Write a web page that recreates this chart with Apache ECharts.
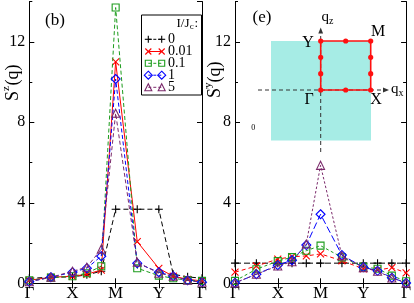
<!DOCTYPE html>
<html><head><meta charset="utf-8">
<script src="https://cdn.jsdelivr.net/npm/echarts@6/dist/echarts.min.js"></script>
<style>html,body{margin:0;padding:0;background:#fff}#c{width:414px;height:303px}</style>
</head><body><div id="c"></div>
<script>
// ---- data ----
const xPath = [0, 0.5, 1, 1.333, 1.667, 2, 2.5, 3, 3.333, 3.667, 4];
const tickLabels = ['Γ', 'X', 'M', 'Y', 'Γ'];
const seriesNames = ['0', '0.01', '0.1', '1', '5'];
const yTicks = [0, 4, 8, 12];

const sz_0    = [0.25, 0.30, 0.32, 0.42, 0.60, 3.68, 3.68, 3.68, 0.45, 0.32, 0.25];
const sz_001  = [0.15, 0.30, 0.35, 0.45, 0.66, 11.0, 2.07, 0.74, 0.35, 0.20, 0.12];
const sz_01   = [0.15, 0.28, 0.35, 0.50, 0.85, 13.7, 0.75, 0.38, 0.25, 0.15, 0.12];
const sz_1    = [0.08, 0.30, 0.55, 0.75, 1.35, 10.15, 1.00, 0.55, 0.35, 0.15, 0.05];
const sz_5    = [0.08, 0.30, 0.60, 0.80, 1.70, 8.45, 1.05, 0.50, 0.35, 0.15, 0.05];

const sy_0    = [1.0, 1.0, 1.0, 1.0, 1.0, 1.0, 1.0, 1.0, 1.0, 1.0, 1.0];
const sy_001  = [0.55, 0.86, 1.20, 1.32, 1.36, 1.46, 1.12, 0.72, 0.65, 0.78, 0.52];
const sy_01   = [0.12, 0.70, 1.10, 1.30, 1.62, 1.87, 1.29, 0.82, 0.72, 0.38, 0.10];
const sy_1    = [0.02, 0.45, 0.90, 1.15, 1.90, 3.43, 1.40, 0.80, 0.62, 0.28, 0.02];
const sy_5    = [0.02, 0.45, 0.86, 1.07, 1.95, 5.86, 1.36, 0.78, 0.60, 0.26, 0.02];

const leftData = [sz_0, sz_001, sz_01, sz_1, sz_5];
const rightData = [sy_0, sy_001, sy_01, sy_1, sy_5];

// ---- styles ----
const SERIF = 'Liberation Serif';
const plusPath = 'path://M0,5L10,5M5,0L5,10';
const crossPath = 'path://M0,0L10,10M0,10L10,0';
const sty = [
  {color: '#000000', symbol: plusPath, size: 8, kind: 'plus'},
  {color: '#ff0000', symbol: crossPath, size: 7, kind: 'cross'},
  {color: '#1c9c1c', symbol: 'rect', size: 7, kind: 'rect'},
  {color: '#0000ff', symbol: 'diamond', size: 9, kind: 'diamond'},
  {color: '#7b2a6b', symbol: 'triangle', size: 8, kind: 'tri'}
];
const leftDash = [[5, 3], 'solid', [4, 2.5], [4, 2.5], [4, 2.5]];
const rightDash = [[6, 3], [4, 3], [3, 2.5], [7, 3], [2.5, 2]];

const G = [
  {left: 29.3, top: 1.5, width: 172.7, height: 281.8},
  {left: 235, top: 1.5, width: 172, height: 281.8}
];

const xAxes = [], yAxes = [];
G.forEach((g, gi) => {
  ['bottom', 'top'].forEach(pos => {
    xAxes.push({
      type: 'value', gridIndex: gi, position: pos, min: 0, max: 4, interval: 1,
      axisLine: {show: true, lineStyle: {color: '#000', width: 1}},
      axisTick: {show: true, inside: true, length: 5, lineStyle: {color: '#000'}},
      axisLabel: {show: pos === 'bottom', margin: 2, fontFamily: SERIF, fontSize: 17, color: '#000',
        formatter: v => tickLabels[Math.round(v)]},
      splitLine: {show: false}
    });
  });
  ['left', 'right'].forEach(pos => {
    yAxes.push({
      type: 'value', gridIndex: gi, position: pos, min: 0, max: 14, interval: 4,
      axisLine: {show: true, lineStyle: {color: '#000', width: 1}},
      axisTick: {show: true, inside: true, length: 5, lineStyle: {color: '#000'}},
      axisLabel: {show: pos === 'left', margin: 4, fontFamily: SERIF, fontSize: 16, color: '#000',
        showMaxLabel: false, formatter: v => (yTicks.indexOf(v) >= 0 ? String(v) : '')},
      splitLine: {show: false}
    });
    yAxes.push({
      type: 'value', gridIndex: gi, position: pos, min: 0, max: 14, interval: 2,
      axisLine: {show: false},
      axisTick: {show: true, inside: true, length: 3, lineStyle: {color: '#000'}},
      axisLabel: {show: false},
      splitLine: {show: false}
    });
  });
});

function mkSeries(arrs, dashes, xi, yi) {
  return arrs.map((arr, i) => ({
    name: seriesNames[i],
    type: 'line',
    xAxisIndex: xi, yAxisIndex: yi,
    data: xPath.map((x, k) => [x, arr[k]]),
    symbol: sty[i].symbol,
    symbolSize: sty[i].size,
    showAllSymbol: true,
    animation: false,
    z: 2 + i,
    lineStyle: {color: sty[i].color, width: 1, type: dashes[i]},
    itemStyle: {color: 'rgba(0,0,0,0)', borderColor: sty[i].color, borderWidth: 1.1}
  }));
}

const series = [].concat(mkSeries(leftData, leftDash, 0, 0), mkSeries(rightData, rightDash, 2, 4));

// ---- decorations (legend, labels, inset) ----
function markerGfx(kind, cx, cy, s, color) {
  const st = {stroke: color, lineWidth: 1.1, fill: 'none'};
  switch (kind) {
    case 'plus': return [
      {type: 'line', shape: {x1: cx - s / 2, y1: cy, x2: cx + s / 2, y2: cy}, style: st},
      {type: 'line', shape: {x1: cx, y1: cy - s / 2, x2: cx, y2: cy + s / 2}, style: st}];
    case 'cross': return [
      {type: 'line', shape: {x1: cx - s / 2, y1: cy - s / 2, x2: cx + s / 2, y2: cy + s / 2}, style: st},
      {type: 'line', shape: {x1: cx - s / 2, y1: cy + s / 2, x2: cx + s / 2, y2: cy - s / 2}, style: st}];
    case 'rect': return [{type: 'rect', shape: {x: cx - s / 2, y: cy - s / 2, width: s, height: s}, style: st}];
    case 'diamond': return [{type: 'polygon', shape: {points: [[cx, cy - s / 2], [cx + s / 2, cy], [cx, cy + s / 2], [cx - s / 2, cy]]}, style: st}];
    default: return [{type: 'polygon', shape: {points: [[cx, cy - s / 2], [cx + s / 2, cy + s / 2], [cx - s / 2, cy + s / 2]]}, style: st}];
  }
}
function txt(s, x, y, size, align, z) {
  return {type: 'text', z: z || 60, x: x, y: y, style: {text: s, fontFamily: SERIF, fontSize: size, fill: '#000', align: align || 'center', verticalAlign: 'middle'}};
}

const gfx = [];
// legend box
gfx.push({type: 'rect', z: 100, shape: {x: 141.5, y: 15, width: 60, height: 80}, style: {fill: '#fff', stroke: '#000', lineWidth: 1}});
gfx.push(txt('I/J', 189.5, 23.5, 13, 'right', 101));
gfx.push(txt('c', 189.8, 27, 9, 'left', 101));
gfx.push(txt(':', 194.5, 23.5, 13, 'left', 101));
const legRows = [39.3, 51.5, 63.3, 75.2, 87.3];
seriesNames.forEach((nm, i) => {
  const y = legRows[i];
  const ld = leftDash[i] === 'solid' ? null : [3, 2];
  gfx.push({type: 'line', z: 101, shape: {x1: 148.3, y1: y, x2: 161.7, y2: y}, style: {stroke: sty[i].color, lineWidth: 1, lineDash: ld}});
  markerGfx(sty[i].kind, 148.3, y, sty[i].size - 1, sty[i].color).forEach(e => { e.z = 102; gfx.push(e); });
  markerGfx(sty[i].kind, 161.7, y, sty[i].size - 1, sty[i].color).forEach(e => { e.z = 102; gfx.push(e); });
  gfx.push(txt(nm, 168, y, 14, 'left', 102));
});

// panel tags
gfx.push(txt('(b)', 55, 21, 17));
gfx.push(txt('(e)', 262, 18, 17));

// y-axis titles (rotated)
function yTitle(cx, cy, sup) {
  return {type: 'group', x: cx, y: cy, rotation: Math.PI / 2, children: [
    {type: 'text', x: -18, y: 0, style: {text: 'S', fontFamily: SERIF, fontSize: 18, fill: '#000', align: 'left', verticalAlign: 'middle'}},
    {type: 'text', x: -8, y: -7, style: {text: sup, fontFamily: SERIF, fontSize: 11, fill: '#000', align: 'left', verticalAlign: 'middle'}},
    {type: 'text', x: -2.5, y: 0, style: {text: '(q)', fontFamily: SERIF, fontSize: 18, fill: '#000', align: 'left', verticalAlign: 'middle'}}
  ]};
}
gfx.push(yTitle(13, 83, 'z'));
gfx.push(yTitle(215.5, 80, 'y'));

// stray small marks
gfx.push({type: 'text', x: 207, y: 87, style: {text: 'z', fontFamily: SERIF, fontSize: 6, fill: '#333', align: 'center', verticalAlign: 'middle'}});
gfx.push(txt('0', 253.3, 127.5, 8));

// inset Brillouin zone
gfx.push({type: 'rect', z: 50, shape: {x: 271, y: 41, width: 100, height: 99.5}, style: {fill: '#a6ece5'}});
gfx.push({type: 'line', z: 51, shape: {x1: 258, y1: 90, x2: 384, y2: 90}, style: {stroke: '#333', lineWidth: 1, lineDash: [4, 3]}});
gfx.push({type: 'polygon', z: 51, shape: {points: [[389, 90], [383, 87.6], [383, 92.4]]}, style: {fill: '#333'}});
gfx.push({type: 'line', z: 51, shape: {x1: 320.7, y1: 152, x2: 320.7, y2: 33}, style: {stroke: '#333', lineWidth: 1, lineDash: [4, 3]}});
gfx.push({type: 'polygon', z: 51, shape: {points: [[320.7, 27.5], [318.3, 33.5], [323.1, 33.5]]}, style: {fill: '#333'}});
gfx.push({type: 'polyline', z: 52, shape: {points: [[320.7, 90], [370.7, 90], [370.7, 41], [320.7, 41], [320.7, 90]]}, style: {stroke: '#ff1010', lineWidth: 1.6, fill: 'none'}});
[[320.7, 90], [345.7, 90], [370.7, 90], [370.7, 73.7], [370.7, 57.3], [370.7, 41], [345.7, 41], [320.7, 41], [320.7, 57.3], [320.7, 73.7]]
  .forEach(p => gfx.push({type: 'circle', z: 53, shape: {cx: p[0], cy: p[1], r: 2.6}, style: {fill: '#ff1010'}}));
[['Γ', 309, 100], ['X', 376, 100], ['M', 378, 32], ['Y', 308, 43]].forEach(t => gfx.push(txt(t[0], t[1], t[2], 16, 'center', 54)));
gfx.push(txt('q', 391, 89, 15, 'left', 54));
gfx.push(txt('x', 398.5, 93, 10, 'left', 54));
gfx.push(txt('q', 321.5, 17, 15, 'left', 54));
gfx.push(txt('z', 329, 21, 10, 'left', 54));

const chart = echarts.init(document.getElementById('c'), null, {renderer: 'canvas'});
chart.setOption({
  animation: false,
  backgroundColor: '#fff',
  grid: G,
  xAxis: xAxes,
  yAxis: yAxes,
  series: series,
  graphic: {elements: gfx}
});
</script>
</body></html>
